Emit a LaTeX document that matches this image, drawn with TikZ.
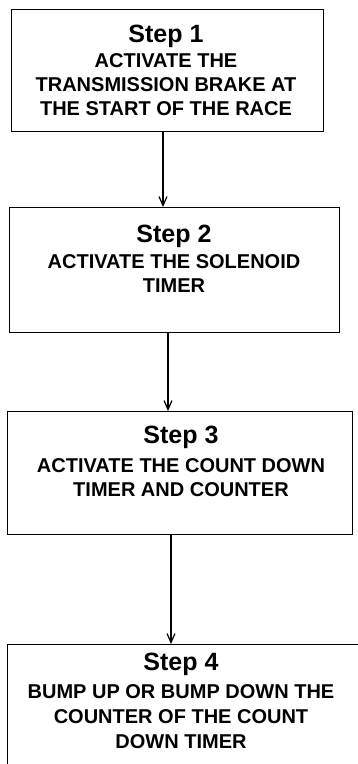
\documentclass[tikz,border=0pt]{standalone}
\usepackage{fontspec}
\setmainfont{Liberation Sans}
\usetikzlibrary{arrows.meta}
\begin{document}
\begin{tikzpicture}[x=1pt,y=-1pt,
  stepbox/.style={draw, line width=1.2pt, rectangle, inner sep=0pt, anchor=north west},
  steptext/.style={align=center, anchor=base, inner sep=0pt,
    font=\bfseries\fontsize{20}{24}\selectfont},
  arr/.style={line width=1.2pt, -{Straight Barb[length=9pt,width=8pt,line width=1.2pt]}}]
\useasboundingbox (0,0) rectangle (358,764);
\clip (0,0) rectangle (358,764);
\node[stepbox, minimum width=312pt, minimum height=122pt] (b1) at (11,9) {};
\node[stepbox, minimum width=330pt, minimum height=125pt] (b2) at (9,207) {};
\node[stepbox, minimum width=345pt, minimum height=123pt] (b3) at (7,411) {};
\node[stepbox, minimum width=360pt, minimum height=140pt] (b4) at (7,644) {};

\node[steptext] (t1) at (166,115) {{\fontsize{25}{25}\selectfont Step 1}\\[1pt]
  ACTIVATE THE\\ TRANSMISSION BRAKE AT\\ THE START OF THE RACE};
\node[steptext] (t2) at (174,292) {{\fontsize{25}{25}\selectfont Step 2}\\[2pt]
  ACTIVATE THE SOLENOID\\ TIMER};
\node[steptext] (t3) at (181,496) {{\fontsize{25}{25}\selectfont Step 3}\\[5pt]
  ACTIVATE THE COUNT DOWN\\ TIMER AND COUNTER};
\node[steptext, font=\bfseries\fontsize{20}{25}\selectfont] (t4) at (181,748) {{\fontsize{25}{25}\selectfont Step 4}\\[3pt]
  BUMP UP OR BUMP DOWN THE\\ COUNTER OF THE COUNT\\ DOWN TIMER};

\coordinate (x1) at (163,0);
\coordinate (x2) at (168,0);
\coordinate (x3) at (171,0);
\draw[arr] (b1.south -| x1) -- (b2.north -| x1);
\draw[arr] (b2.south -| x2) -- (b3.north -| x2);
\draw[arr] (b3.south -| x3) -- (b4.north -| x3);
\end{tikzpicture}
\end{document}
